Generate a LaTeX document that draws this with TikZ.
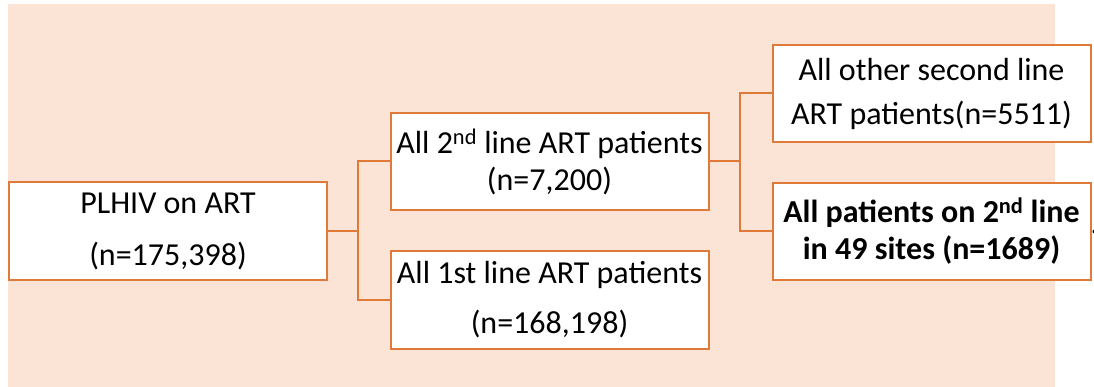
\documentclass[tikz,border=0pt]{standalone}
\usepackage{fontspec}
\setmainfont{Carlito}
\usepackage{xcolor}
\definecolor{boxline}{HTML}{E07A38}
\definecolor{peach}{HTML}{FBE3D6}

\begin{document}
\begin{tikzpicture}[x=1pt,y=-1pt,
  flowbox/.style={draw=boxline,line width=2pt,fill=white,inner sep=0pt,
    minimum width=318pt,minimum height=97pt,align=center,
    font=\fontsize{32}{37}\selectfont},
  link/.style={draw=boxline,line width=2pt}]
\useasboundingbox (0,0) rectangle (1094,387);
\fill[peach] (8,4) rectangle (1055,387);
% boxes
\node[flowbox] (plhiv) at (168,231) {PLHIV on ART\\[15pt](n=175,398)};
\node[flowbox] (second) at (549.5,161.5) {All 2\textsuperscript{nd} line ART patients\\(n=7,200)};
\node[flowbox] (first) at (549.5,300) {All 1st line ART patients\\[13pt](n=168,198)};
\node[flowbox] (other) at (931.5,93.5) {All other second line\\[7pt]ART patients(n=5511)};
\node[flowbox,font=\fontsize{32}{37}\selectfont\bfseries] (sites) at (931.5,231.5) {All patients on 2\textsuperscript{nd} line\\in 49 sites (n=1689)};
% branches
\coordinate (j1) at (358,231);
\coordinate (j2) at (740,161.5);
\draw[link] (plhiv.east) -- (j1);
\draw[link] (j1) |- (second.west);
\draw[link] (j1) |- (first.west);
\draw[link] (second.east) -- (j2);
\draw[link] (j2) |- (other.west);
\draw[link] (j2) |- (sites.west);
\fill (sites.east) ++(3,0) circle (2);
\end{tikzpicture}
\end{document}
